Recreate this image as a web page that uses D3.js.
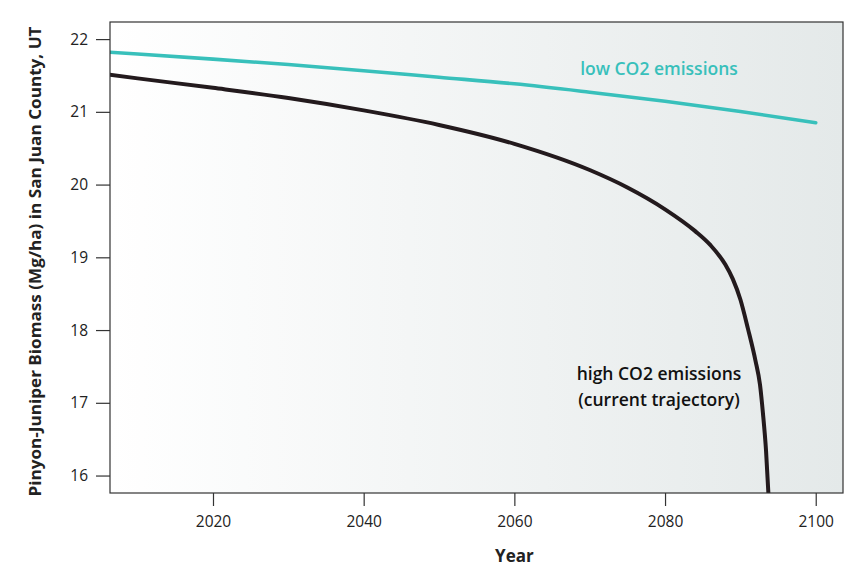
<!DOCTYPE html>
<html>
<head>
<meta charset="utf-8">
<script src="https://cdn.jsdelivr.net/npm/d3@7"></script>
<style>
  body { margin: 0; background: #fff; }
  text { font-family: "Open Sans", "Noto Sans", sans-serif; }
</style>
</head>
<body>
<svg id="chart"></svg>
<script>
// series
const lowYears = [2006.3, 2010, 2020, 2030, 2040, 2050, 2060, 2070, 2080, 2090, 2100];
const lowValues = [21.82, 21.795, 21.725, 21.65, 21.565, 21.475, 21.385, 21.27, 21.145, 21.005, 20.85];

const highYears = [2006.3, 2010, 2020, 2030, 2040, 2050, 2060, 2070, 2075, 2080, 2084, 2086, 2088, 2089, 2090, 2091, 2092, 2092.6, 2093, 2093.4, 2093.8];
const highValues = [21.51, 21.46, 21.33, 21.19, 21.02, 20.82, 20.56, 20.20, 19.96, 19.66, 19.36, 19.17, 18.90, 18.70, 18.42, 18.02, 17.58, 17.25, 16.85, 16.35, 15.6];

const xTicks = [2020, 2040, 2060, 2080, 2100];
const yTicks = [16, 17, 18, 19, 20, 21, 22];

const margin = { top: 22, right: 19, bottom: 86, left: 110 },
  W = 862, H = 579,
  width = W - margin.left - margin.right,
  height = H - margin.top - margin.bottom;

const svg = d3.select("#chart").attr("width", W).attr("height", H);

const defs = svg.append("defs");
const grad = defs.append("linearGradient").attr("id", "bg")
  .attr("x1", "0%").attr("x2", "100%").attr("y1", "0%").attr("y2", "0%");
grad.append("stop").attr("offset", "0%").attr("stop-color", "#ffffff");
grad.append("stop").attr("offset", "100%").attr("stop-color", "#e4e9e9");
defs.append("clipPath").attr("id", "clip")
  .append("rect").attr("width", width).attr("height", height);

const g = svg.append("g").attr("transform", `translate(${margin.left},${margin.top})`);

const x = d3.scaleLinear().domain([2006.33, 2103.62]).range([0, width]);
const y = d3.scaleLinear().domain([15.76, 22.235]).range([height, 0]);

g.append("rect").attr("width", width).attr("height", height).attr("fill", "url(#bg)");

const line = d3.line().x(d => x(d[0])).y(d => y(d[1])).curve(d3.curveMonotoneX);

const plot = g.append("g").attr("clip-path", "url(#clip)");
plot.append("path")
  .datum(lowYears.map((yr, i) => [yr, lowValues[i]]))
  .attr("d", line).attr("fill", "none")
  .attr("stroke", "#38c0bb").attr("stroke-width", 3.6).attr("stroke-linecap", "round");
plot.append("path")
  .datum(highYears.map((yr, i) => [yr, highValues[i]]))
  .attr("d", line).attr("fill", "none")
  .attr("stroke", "#231a1d").attr("stroke-width", 4);

// frame
g.append("rect").attr("width", width).attr("height", height)
  .attr("fill", "none").attr("stroke", "#333").attr("stroke-width", 1.2);

const xAxis = g.append("g").attr("transform", `translate(0,${height})`)
  .call(d3.axisBottom(x).tickValues(xTicks).tickFormat(d3.format("d")).tickSize(13).tickSizeOuter(0).tickPadding(10));
const yAxis = g.append("g")
  .call(d3.axisLeft(y).tickValues(yTicks).tickFormat(d3.format("d")).tickSize(14).tickSizeOuter(0).tickPadding(8));
[xAxis, yAxis].forEach(a => {
  a.select(".domain").remove();
  a.selectAll("line").attr("stroke", "#333").attr("stroke-width", 1.2);
  a.selectAll("text").attr("fill", "#222").style("font-size", "15.5px")
    .style("font-family", "'Open Sans', sans-serif");
});

g.append("text")
  .attr("x", x(2060)).attr("y", height + 69)
  .attr("text-anchor", "middle").attr("font-weight", 700).attr("font-size", 17)
  .attr("fill", "#222").text("Year");

svg.append("text")
  .attr("transform", `translate(41,${margin.top + height / 2 + 4}) rotate(-90)`)
  .attr("text-anchor", "middle").attr("font-weight", 700).attr("font-size", 16)
  .attr("textLength", 470).attr("lengthAdjust", "spacingAndGlyphs")
  .attr("fill", "#222").text("Pinyon-Juniper Biomass (Mg/ha) in San Juan County, UT");

g.append("text")
  .attr("x", 659 - margin.left).attr("y", 75 - margin.top)
  .attr("text-anchor", "middle").attr("font-weight", 600).attr("font-size", 17.5)
  .attr("fill", "#38c0bb").text("low CO2 emissions");

const hi = g.append("text")
  .attr("text-anchor", "middle").attr("font-weight", 600).attr("font-size", 17.5)
  .attr("fill", "#111");
hi.append("tspan").attr("x", 659 - margin.left).attr("y", 380 - margin.top).text("high CO2 emissions");
hi.append("tspan").attr("x", 659 - margin.left).attr("y", 406 - margin.top).text("(current trajectory)");
</script>
</body>
</html>
